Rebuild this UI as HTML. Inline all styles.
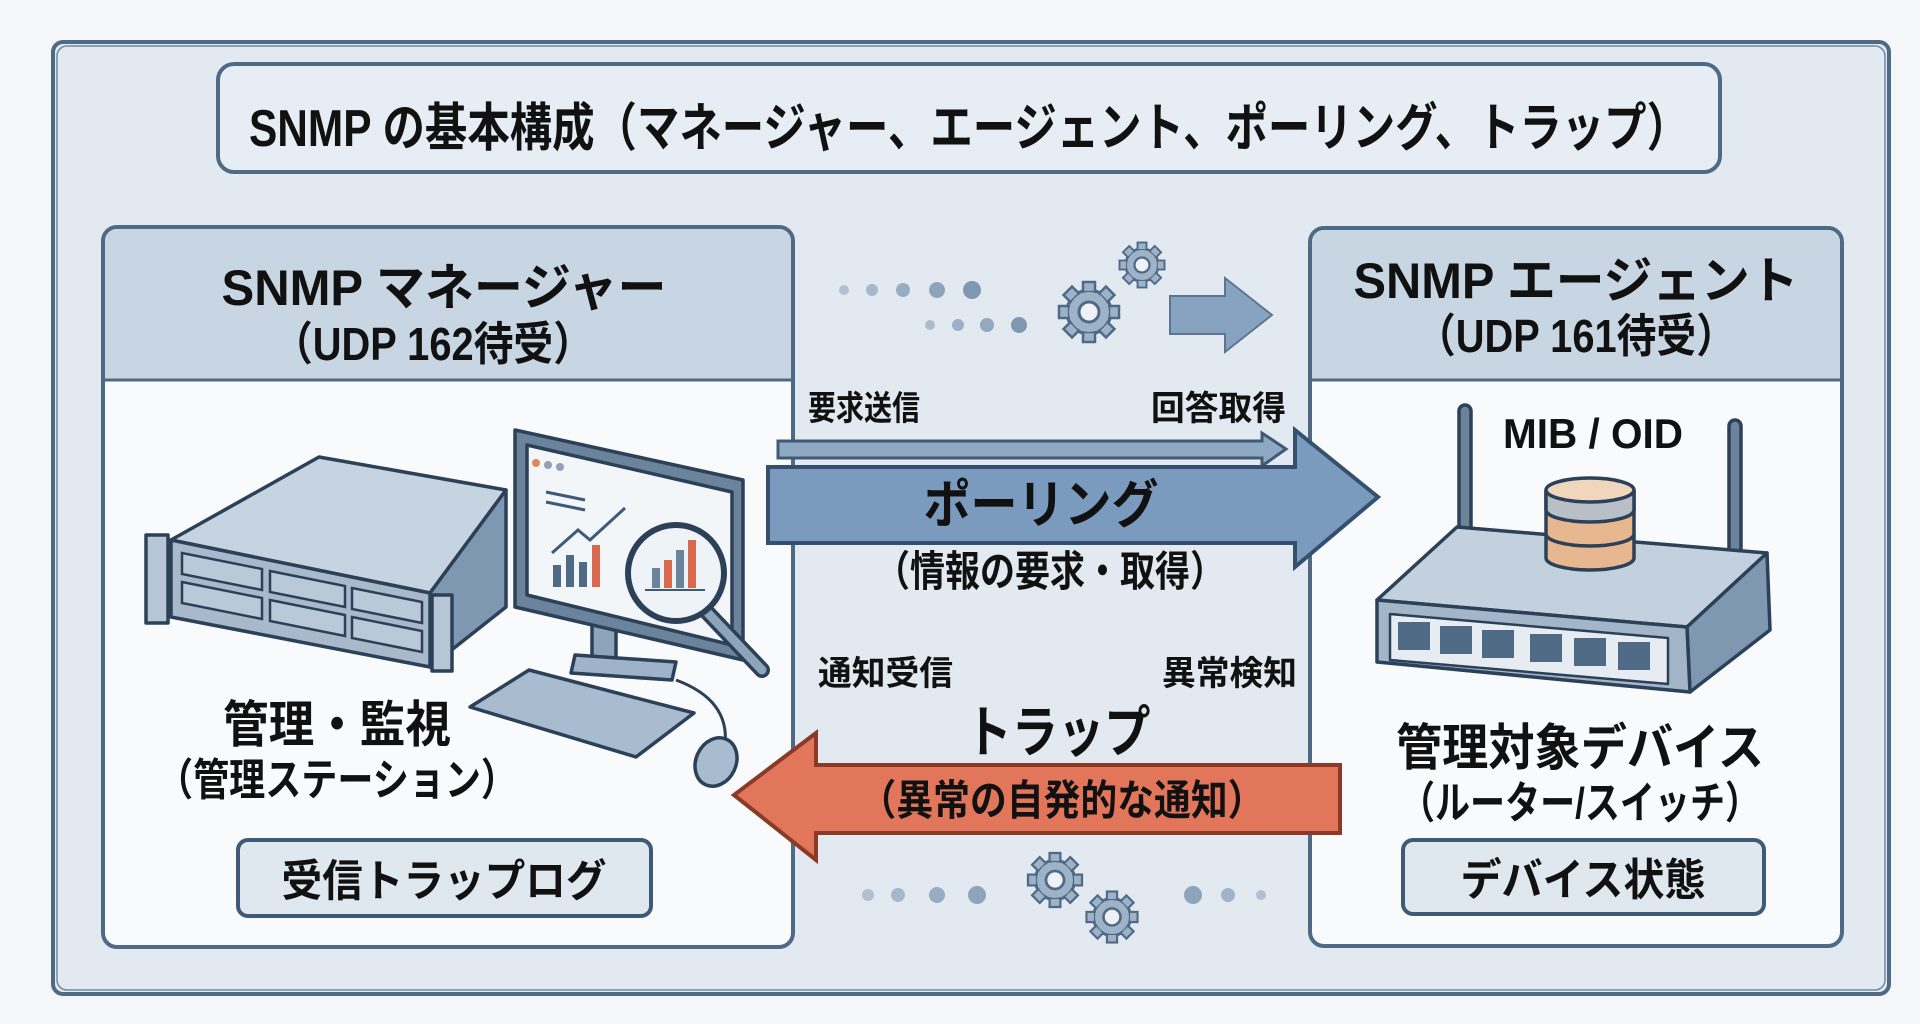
<!DOCTYPE html>
<html><head><meta charset="utf-8"><style>
html,body{margin:0;padding:0;background:#f4f6f9;}
svg{display:block}
text{font-family:"Liberation Sans","Noto Sans CJK JP",sans-serif;font-weight:bold;fill:#111;}
</style></head><body>
<svg width="1920" height="1024" viewBox="0 0 1920 1024" xmlns="http://www.w3.org/2000/svg">
<rect x="0" y="0" width="1920" height="1024" fill="#f4f6f9"/>
<rect x="53" y="42" width="1836" height="952" rx="10" fill="#e2e9f1" stroke="#4f6a85" stroke-width="4"/>
<rect x="57" y="46" width="1828" height="944" rx="10" fill="none" stroke="#6f8aa5" stroke-width="1.5"/>
<rect x="218" y="64" width="1502" height="108" rx="16" fill="#e6edf4" stroke="#4f6a85" stroke-width="4"/>
<text x="969" y="146" font-size="52" text-anchor="middle" textLength="1440" lengthAdjust="spacingAndGlyphs">SNMP の基本構成（マネージャー、エージェント、ポーリング、トラップ）</text>

<rect x="103" y="227" width="690" height="720" rx="14" fill="#f8fafc" stroke="#4f6a85" stroke-width="4"/>
<path d="M105 380 V241 a12 12 0 0 1 12 -12 H779 a12 12 0 0 1 12 12 V380 Z" fill="#c8d5e3"/>
<line x1="103" y1="380" x2="793" y2="380" stroke="#4f6a85" stroke-width="3"/>
<text x="444" y="305" font-size="50" text-anchor="middle" textLength="445" lengthAdjust="spacingAndGlyphs">SNMP マネージャー</text>
<text x="433" y="360" font-size="46" text-anchor="middle" textLength="320" lengthAdjust="spacingAndGlyphs">（UDP 162待受）</text>

<rect x="1310" y="228" width="532" height="718" rx="14" fill="#f8fafc" stroke="#4f6a85" stroke-width="4"/>
<path d="M1312 380 V242 a12 12 0 0 1 12 -12 H1828 a12 12 0 0 1 12 12 V380 Z" fill="#c8d5e3"/>
<line x1="1310" y1="380" x2="1842" y2="380" stroke="#4f6a85" stroke-width="3"/>
<text x="1576" y="298" font-size="50" text-anchor="middle" textLength="445" lengthAdjust="spacingAndGlyphs">SNMP エージェント</text>
<text x="1576" y="352" font-size="46" text-anchor="middle" textLength="320" lengthAdjust="spacingAndGlyphs">（UDP 161待受）</text>

<g fill="#7f98b2">
<circle cx="844" cy="290" r="5" opacity=".5"/><circle cx="872" cy="290" r="6" opacity=".6"/><circle cx="903" cy="290" r="7" opacity=".75"/><circle cx="937" cy="290" r="8" opacity=".85"/><circle cx="972" cy="290" r="9"/>
<circle cx="930" cy="325" r="5" opacity=".55"/><circle cx="958" cy="325" r="6" opacity=".7"/><circle cx="987" cy="325" r="7" opacity=".8"/><circle cx="1019" cy="325" r="8"/>
<circle cx="868" cy="895" r="6" opacity=".5"/><circle cx="898" cy="895" r="7" opacity=".6"/><circle cx="937" cy="895" r="8" opacity=".75"/><circle cx="977" cy="895" r="9" opacity=".85"/>
<circle cx="1193" cy="895" r="9" opacity=".85"/><circle cx="1228" cy="895" r="7" opacity=".65"/><circle cx="1261" cy="895" r="5" opacity=".5"/>
</g>
<defs>
<g id="gear">
<circle r="22" fill="#9fb3c8" stroke="#4f6a85" stroke-width="3"/>
<g fill="#9fb3c8" stroke="#4f6a85" stroke-width="2.5">
<rect x="-6" y="-30" width="12" height="10"/><rect x="-6" y="20" width="12" height="10"/>
<rect x="-30" y="-6" width="10" height="12"/><rect x="20" y="-6" width="10" height="12"/>
<rect x="-6" y="-30" width="12" height="10" transform="rotate(45)"/><rect x="-6" y="20" width="12" height="10" transform="rotate(45)"/>
<rect x="-30" y="-6" width="10" height="12" transform="rotate(45)"/><rect x="20" y="-6" width="10" height="12" transform="rotate(45)"/>
</g>
<circle r="20" fill="#9fb3c8"/>
<circle r="10" fill="#eef2f6" stroke="#4f6a85" stroke-width="3"/>
</g>
</defs>
<use href="#gear" transform="translate(1089,312)"/>
<use href="#gear" transform="translate(1142,265) scale(0.75)"/>
<use href="#gear" transform="translate(1055,880) scale(0.9)"/>
<use href="#gear" transform="translate(1112,917) scale(0.85)"/>
<path d="M1170 296 H1225 V278 L1272 315 L1225 352 V334 H1170 Z" fill="#7f9cbb" stroke="#4f6a85" stroke-width="2" opacity=".9"/>

<text x="808" y="420" font-size="34" textLength="112" lengthAdjust="spacingAndGlyphs">要求送信</text>
<text x="1151" y="420" font-size="34" textLength="135" lengthAdjust="spacingAndGlyphs">回答取得</text>
<path d="M778 441 H1262 V433 L1286 449 L1262 466 V458 H778 Z" fill="#8fa9c4" stroke="#3f5a76" stroke-width="3"/>
<path d="M768 467 H1295 V430 L1378 497 L1295 567 V543 H768 Z" fill="#7a9bbd" stroke="#35506c" stroke-width="4"/>
<text x="1041" y="523" font-size="52" text-anchor="middle" textLength="235" lengthAdjust="spacingAndGlyphs">ポーリング</text>
<text x="1050" y="586" font-size="42" text-anchor="middle" textLength="350" lengthAdjust="spacingAndGlyphs">（情報の要求・取得）</text>

<text x="818" y="685" font-size="34" textLength="135" lengthAdjust="spacingAndGlyphs">通知受信</text>
<text x="1162" y="685" font-size="34" textLength="135" lengthAdjust="spacingAndGlyphs">異常検知</text>
<text x="1058" y="752" font-size="56" text-anchor="middle" textLength="185" lengthAdjust="spacingAndGlyphs">トラップ</text>
<path d="M1340 765 H816 V733 L734 795 L816 860 V833 H1340 Z" fill="#e2765b" stroke="#8a3a26" stroke-width="4"/>
<text x="1062" y="815" font-size="42" text-anchor="middle" textLength="405" lengthAdjust="spacingAndGlyphs">（異常の自発的な通知）</text>

<!-- server -->
<g stroke="#2c4058" stroke-width="3.5" stroke-linejoin="round">
<polygon points="171,540 319,457 506,490 430,593" fill="#c6d4e2"/>
<polygon points="430,593 506,490 506,607 430,667" fill="#7f97b0"/>
<polygon points="171,540 430,593 430,667 171,617" fill="#a7b9cb"/>
<rect x="146" y="535" width="22" height="88" fill="#b7c6d6"/>
<rect x="432" y="595" width="20" height="76" fill="#b7c6d6"/>
</g>
<g stroke="#2c4058" stroke-width="2.5" fill="#b9c9da">
<polygon points="182,553 262,569 262,590 182,574"/>
<polygon points="182,582 262,598 262,619 182,603"/>
<polygon points="270,571 345,586 345,607 270,592"/>
<polygon points="270,600 345,615 345,636 270,621"/>
<polygon points="352,588 422,602 422,623 352,609"/>
<polygon points="352,617 422,631 422,652 352,638"/>
</g>
<!-- monitor -->
<g stroke="#2c4058" stroke-width="3.5" stroke-linejoin="round">
<rect x="592" y="625" width="24" height="35" fill="#8ea4bb"/>
<polygon points="575,655 676,662 672,680 571,673" fill="#9fb3c8"/>
<polygon points="515,430 743,480 743,660 515,607" fill="#6c839c"/>
<polygon points="527,445 732,492 732,645 527,595" fill="#f3f6f9"/>
<polygon points="470,707 529,670 694,713 636,757" fill="#a9bccf"/>
</g>
<g fill="#8fa2b6"><circle cx="536" cy="463" r="4" fill="#d98a5a"/><circle cx="548" cy="465" r="4"/><circle cx="560" cy="467" r="4"/></g>
<g fill="#4f6a85"><rect x="553" y="565" width="8" height="22"/><rect x="566" y="555" width="8" height="32"/><rect x="579" y="562" width="8" height="25"/></g>
<rect x="592" y="545" width="8" height="42" fill="#d8694f"/>
<polyline points="552,553 578,530 590,540 625,508" fill="none" stroke="#3f5a76" stroke-width="3"/>
<g stroke="#3f5a76" stroke-width="3"><line x1="546" y1="492" x2="585" y2="500"/><line x1="546" y1="502" x2="585" y2="510"/></g>
<line x1="705" y1="610" x2="762" y2="670" stroke="#2c4058" stroke-width="16" stroke-linecap="round"/>
<line x1="705" y1="610" x2="762" y2="670" stroke="#8ea4bb" stroke-width="9" stroke-linecap="round"/>
<circle cx="676" cy="573" r="48" fill="#eef3f7" stroke="#2c4058" stroke-width="6"/>
<g><rect x="652" y="568" width="8" height="20" fill="#6c839c"/><rect x="664" y="560" width="8" height="28" fill="#d8694f"/><rect x="676" y="550" width="8" height="38" fill="#6c839c"/><rect x="688" y="540" width="8" height="48" fill="#d8694f"/></g>
<line x1="645" y1="590" x2="705" y2="590" stroke="#3f5a76" stroke-width="2"/>
<path d="M676 680 Q730 700 725 745" fill="none" stroke="#2c4058" stroke-width="3"/>
<ellipse cx="716" cy="762" rx="20" ry="25" fill="#a9bccf" stroke="#2c4058" stroke-width="3.5" transform="rotate(25 716 762)"/>

<text x="337" y="742" font-size="50" text-anchor="middle" textLength="228" lengthAdjust="spacingAndGlyphs">管理・監視</text>
<text x="337" y="795" font-size="44" text-anchor="middle" textLength="360" lengthAdjust="spacingAndGlyphs">（管理ステーション）</text>
<rect x="238" y="840" width="413" height="76" rx="10" fill="#dfe7ef" stroke="#3f5a76" stroke-width="4"/>
<text x="444" y="896" font-size="44" text-anchor="middle" textLength="325" lengthAdjust="spacingAndGlyphs">受信トラップログ</text>

<!-- router -->
<g stroke="#2c4058" stroke-width="3.5" stroke-linejoin="round">
<rect x="1459" y="405" width="12" height="130" rx="6" fill="#6c839c"/>
<rect x="1729" y="420" width="12" height="135" rx="6" fill="#6c839c"/>
<polygon points="1457,527 1767,553 1687,627 1377,600" fill="#c3d1df"/>
<polygon points="1687,627 1767,553 1770,630 1690,692" fill="#7f97b0"/>
<polygon points="1377,600 1687,627 1690,692 1377,662" fill="#a3b6c9"/>
<polygon points="1390,614 1668,638 1668,684 1390,660" fill="#e6ecf2" stroke-width="2.5"/>
</g>
<g fill="#4f6a85">
<rect x="1398" y="622" width="32" height="28"/><rect x="1440" y="626" width="32" height="28"/><rect x="1482" y="630" width="32" height="28"/>
<rect x="1530" y="634" width="32" height="28"/><rect x="1574" y="638" width="32" height="28"/><rect x="1618" y="642" width="32" height="28"/>
</g>
<g stroke="#2c4058" stroke-width="3.5">
<path d="M1546 490 V558 a44 12 0 0 0 88 0 V490" fill="#e7b88f"/>
<path d="M1546 490 V510 a44 12 0 0 0 88 0 V490" fill="#b8bfc7"/>
<ellipse cx="1590" cy="490" rx="44" ry="12" fill="#efd6bd"/>
<path d="M1546 534 a44 12 0 0 0 88 0" fill="none"/>
</g>
<text x="1593" y="448" font-size="42" text-anchor="middle" textLength="180" lengthAdjust="spacingAndGlyphs">MIB / OID</text>

<text x="1580" y="765" font-size="50" text-anchor="middle" textLength="368" lengthAdjust="spacingAndGlyphs">管理対象デバイス</text>
<text x="1580" y="818" font-size="44" text-anchor="middle" textLength="360" lengthAdjust="spacingAndGlyphs">（ルーター/スイッチ）</text>
<rect x="1403" y="840" width="361" height="74" rx="10" fill="#dfe7ef" stroke="#3f5a76" stroke-width="4"/>
<text x="1583" y="895" font-size="44" text-anchor="middle" textLength="245" lengthAdjust="spacingAndGlyphs">デバイス状態</text>
</svg>
</body></html>
